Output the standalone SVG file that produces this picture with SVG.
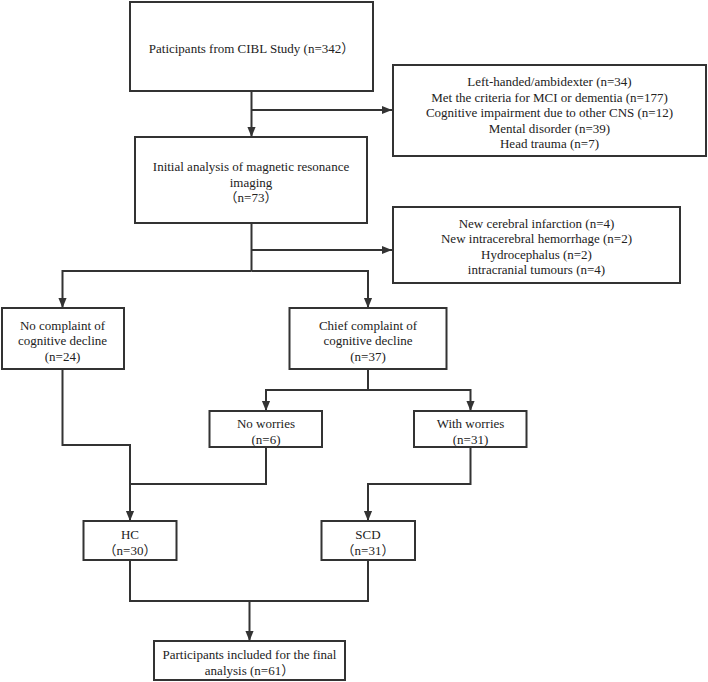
<svg xmlns="http://www.w3.org/2000/svg" width="708" height="682" viewBox="0 0 708 682">
<style>
.box{fill:#fff;stroke:#333;stroke-width:2}
.ln{fill:none;stroke:#333;stroke-width:2}
text{font-family:"Liberation Serif","Noto Sans CJK SC",serif;font-size:13px;fill:#222;text-anchor:middle}
</style>
<defs>
<marker id="ah" markerUnits="userSpaceOnUse" markerWidth="10" markerHeight="12" refX="11" refY="4.5" orient="auto" viewBox="0 0 11 9">
<path d="M0,0 L11,4.5 L0,9 Z" fill="#333"/>
</marker>
</defs>
<rect width="708" height="682" fill="#fff"/>
<g id="connectors">
<path class="ln" d="M251.5,91 V137" marker-end="url(#ah)"/>
<path class="ln" d="M251.5,110 H392" marker-end="url(#ah)"/>
<path class="ln" d="M251.5,223 V271"/>
<path class="ln" d="M251.5,250 H392" marker-end="url(#ah)"/>
<path class="ln" d="M251.5,271 H62.5 V308" marker-end="url(#ah)"/>
<path class="ln" d="M251.5,271 H368 V308" marker-end="url(#ah)"/>
<path class="ln" d="M368,369 V390"/>
<path class="ln" d="M368,390 H266 V411" marker-end="url(#ah)"/>
<path class="ln" d="M368,390 H470.5 V411" marker-end="url(#ah)"/>
<path class="ln" d="M62.5,369 V445 H130 V521" marker-end="url(#ah)"/>
<path class="ln" d="M266,447 V484 H130"/>
<path class="ln" d="M470.5,447 V484 H368 V521" marker-end="url(#ah)"/>
<path class="ln" d="M130,560 V601 H368 V560"/>
<path class="ln" d="M249.5,601 V641" marker-end="url(#ah)"/>
</g>
<g id="n_start">
<rect class="box" x="130" y="2" width="243" height="89"/>
<text x="251.5" y="52.5">Paticipants from CIBL Study (n=342）</text>
</g>
<g id="n_excl1">
<rect class="box" x="393" y="65" width="313" height="91"/>
<text x="549.5" y="86">Left-handed/ambidexter (n=34)</text>
<text x="549.5" y="101.5">Met the criteria for MCI or dementia (n=177)</text>
<text x="549.5" y="117">Cognitive impairment due to other CNS (n=12)</text>
<text x="549.5" y="132.5">Mental disorder (n=39)</text>
<text x="549.5" y="148">Head trauma (n=7)</text>
</g>
<g id="n_mri">
<rect class="box" x="135" y="137" width="232" height="86"/>
<text x="251" y="170.5">Initial analysis of  magnetic resonance</text>
<text x="251" y="186.5">imaging</text>
<text x="251" y="201.5">（n=73）</text>
</g>
<g id="n_excl2">
<rect class="box" x="393" y="207" width="287" height="76"/>
<text x="536.5" y="227.5">New cerebral infarction (n=4)</text>
<text x="536.5" y="242.5">New intracerebral hemorrhage (n=2)</text>
<text x="536.5" y="258.5">Hydrocephalus (n=2)</text>
<text x="536.5" y="273.5">intracranial tumours (n=4)</text>
</g>
<g id="n_nocomplaint">
<rect class="box" x="2" y="308" width="122" height="61"/>
<text x="62.5" y="329.5">No complaint of</text>
<text x="62.5" y="344.5">cognitive decline</text>
<text x="62.5" y="360.5">(n=24)</text>
</g>
<g id="n_chief">
<rect class="box" x="289.5" y="308" width="157" height="61"/>
<text x="368" y="329.5">Chief complaint of</text>
<text x="368" y="344.5">cognitive decline</text>
<text x="368" y="360.5">(n=37)</text>
</g>
<g id="n_noworries">
<rect class="box" x="209.5" y="411" width="112.5" height="36"/>
<text x="266" y="427.5">No worries</text>
<text x="266" y="443.5">(n=6)</text>
</g>
<g id="n_withworries">
<rect class="box" x="414" y="411" width="112.5" height="36"/>
<text x="470.5" y="427.5">With worries</text>
<text x="470.5" y="443.5">(n=31)</text>
</g>
<g id="n_hc">
<rect class="box" x="83.5" y="521" width="93" height="39"/>
<text x="130" y="539">HC</text>
<text x="130" y="554.5">（n=30）</text>
</g>
<g id="n_scd">
<rect class="box" x="321.5" y="521" width="93.5" height="39"/>
<text x="368" y="539">SCD</text>
<text x="368" y="554.5">（n=31）</text>
</g>
<g id="n_final">
<rect class="box" x="154" y="641" width="191" height="39"/>
<text x="249.5" y="659">Participants included for the final</text>
<text x="249.5" y="674.5">analysis (n=61）</text>
</g>
</svg>
